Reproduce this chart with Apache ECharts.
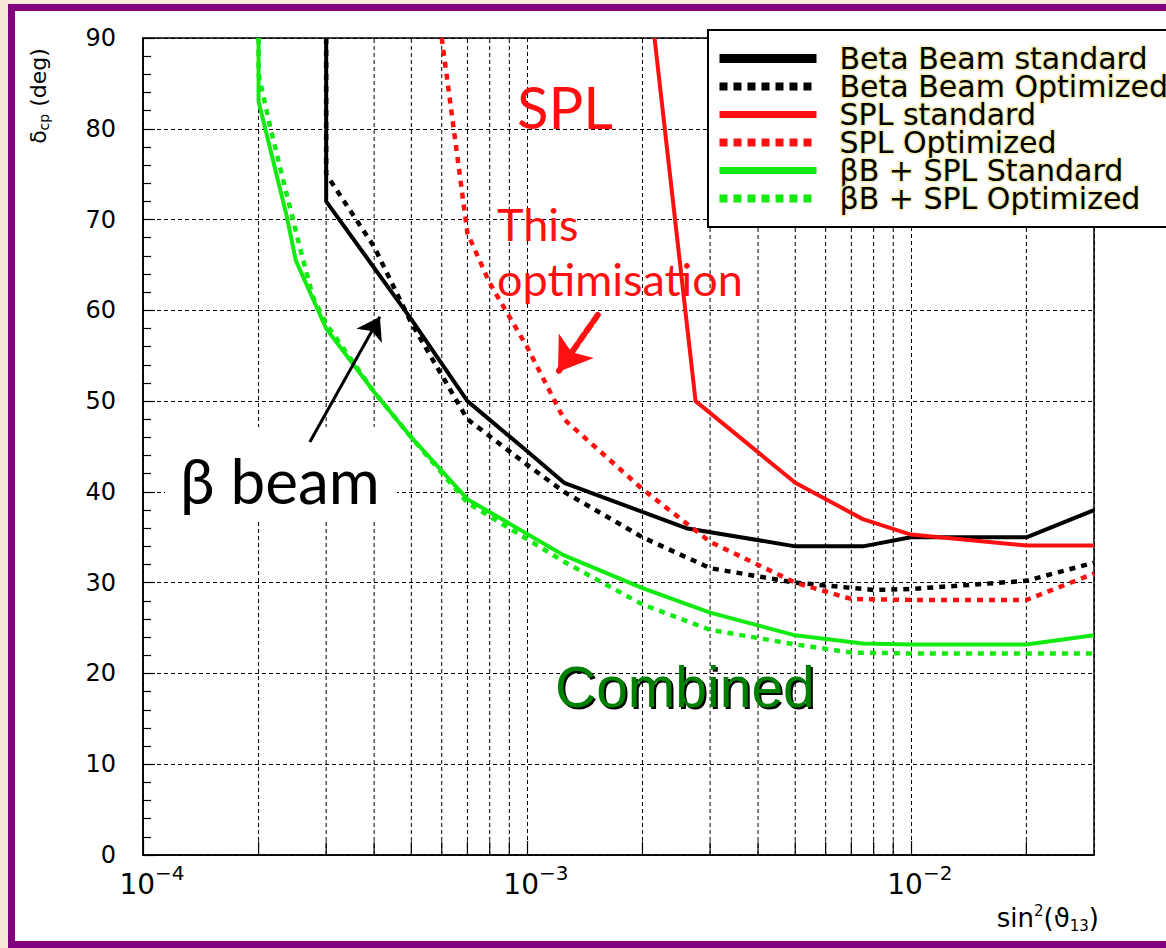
<!DOCTYPE html>
<html><head><meta charset="utf-8">
<script src="https://cdn.jsdelivr.net/npm/echarts@6/dist/echarts.min.js"></script>
<style>html,body{margin:0;padding:0;background:#f6e9d6;} #c{width:1166px;height:948px;}</style>
</head><body><div id="c"></div>
<script>
// ---- data ----
const seriesNames = ['Beta Beam standard','Beta Beam Optimized','SPL standard','SPL Optimized','\u03b2B + SPL Standard','\u03b2B + SPL Optimized'];

const bbStdX = [3e-4, 3e-4, 5e-4, 7e-4, 1e-3, 1.25e-3, 2.6e-3, 5e-3, 7.5e-3, 1e-2, 2e-2, 3e-2];
const bbStdY = [90, 72, 59, 50, 44.5, 41, 36, 34, 34, 35, 35, 38];

const bbOptX = [3e-4, 3e-4, 4e-4, 5e-4, 7e-4, 1e-3, 1.25e-3, 2e-3, 3e-3, 5e-3, 8e-3, 1e-2, 2e-2, 3e-2];
const bbOptY = [90, 75, 67, 58.6, 48, 43, 40, 35, 31.6, 30, 29.2, 29.3, 30.2, 32.2];

const splStdX = [2.15e-3, 2.75e-3, 5e-3, 7.5e-3, 1e-2, 2e-2, 3e-2];
const splStdY = [90, 50, 41, 37, 35.3, 34.1, 34.1];

const splOptX = [6e-4, 7e-4, 8e-4, 1e-3, 1.25e-3, 2e-3, 3e-3, 5e-3, 7e-3, 1e-2, 2e-2, 3e-2];
const splOptY = [90, 68.5, 63, 56, 48, 40.3, 34.5, 30, 28.2, 28.1, 28.1, 31];

const cbStdX = [2e-4, 2e-4, 2.37e-4, 2.5e-4, 3e-4, 4e-4, 5e-4, 7e-4, 1.25e-3, 2e-3, 3e-3, 5e-3, 7.5e-3, 1e-2, 2e-2, 3e-2];
const cbStdY = [90, 83, 70.3, 65.5, 58, 51, 46, 39.2, 33, 29.4, 26.7, 24.2, 23.3, 23.2, 23.2, 24.2];

const cbOptX = [2e-4, 2e-4, 2.15e-4, 2.32e-4, 2.56e-4, 2.77e-4, 3e-4, 4e-4, 5e-4, 7e-4, 1.25e-3, 2e-3, 3e-3, 5e-3, 7e-3, 1e-2, 2e-2, 3e-2];
const cbOptY = [90, 86, 80, 74.3, 67, 61.5, 58.5, 51, 46, 38.8, 32.3, 27.6, 24.8, 23.2, 22.3, 22.2, 22.2, 22.2];

const minorX = [2e-4,3e-4,4e-4,5e-4,6e-4,7e-4,8e-4,9e-4,2e-3,3e-3,4e-3,5e-3,6e-3,7e-3,8e-3,9e-3,2e-2];
const yMin = 0, yMax = 90, yStep = 10;
const xMin = 1e-4, xMax = 3e-2;

// ---- chart ----
const zip = (xs, ys) => xs.map((x, i) => [x, ys[i]]);
const RED = '#ff1010', GREEN = '#12ea12', BLACK = '#000000';

function lineSeries(name, xs, ys, color, dashed) {
  return {
    name, type: 'line', data: zip(xs, ys), symbol: 'none', showSymbol: false, z: 3,
    animation: false, emphasis: { disabled: true }, clip: true,
    itemStyle: { color },
    lineStyle: { color, width: dashed ? 4.5 : 4, type: dashed ? [6, 6] : 'solid' }
  };
}
// vertical segments at the minor decades, broken apart with empty points
const vSegments = (xs, y0, y1) => xs.flatMap(x => [[x, y0], [x, y1], '-']);

const chart = echarts.init(document.getElementById('c'), null, { renderer: 'svg' });
const FF = 'DejaVu Sans';

const option = {
  backgroundColor: '#f6e9d6',
  animation: false,
  grid: { left: 143, right: 72, top: 38, bottom: 93, show: true, borderColor: '#000', borderWidth: 1.5, backgroundColor: 'transparent' },
  xAxis: {
    type: 'log', logBase: 10, min: xMin, max: xMax,
    axisLine: { show: true, lineStyle: { color: '#000', width: 1.5 } },
    axisTick: { show: true, inside: true, length: 14, lineStyle: { color: '#000', width: 1.2 } },
    splitLine: { show: true, lineStyle: { color: '#000', type: [4, 3], width: 1 } },
    axisLabel: {
      showMaxLabel: false, margin: 8, padding: [0, 0, 0, 18],
      formatter: v => '{b|10}{e|\u2212' + Math.round(-Math.log10(v)) + '}',
      rich: {
        b: { fontFamily: FF, fontSize: 28, color: '#000', lineHeight: 30, padding: [12, 0, 0, 0] },
        e: { fontFamily: FF, fontSize: 20, color: '#000', lineHeight: 20, verticalAlign: 'top' }
      }
    }
  },
  yAxis: {
    type: 'value', min: yMin, max: yMax, interval: yStep,
    axisLine: { show: true, lineStyle: { color: '#000', width: 1.5 } },
    axisTick: { show: true, inside: true, length: 12, lineStyle: { color: '#000', width: 1.2 } },
    minorTick: { show: true, splitNumber: 5, length: 8, lineStyle: { color: '#000', width: 1.2 } },
    splitLine: { show: true, lineStyle: { color: '#000', type: [4, 3], width: 1 } },
    axisLabel: { fontFamily: FF, fontSize: 24, color: '#000', margin: 27 }
  },
  legend: {
    orient: 'vertical', left: 708, top: 30, align: 'left',
    itemWidth: 97, itemHeight: 14, itemGap: -5,
    padding: [12, 40, 12, 7], backgroundColor: '#fff', borderColor: '#000', borderWidth: 2,
    selectedMode: false,
    itemStyle: { opacity: 0 },
    textStyle: { fontFamily: FF, fontSize: 30, lineHeight: 14, color: '#000', padding: [0, 0, 0, 18], textBorderColor: '#f3efb6', textBorderWidth: 3 },
    data: [
      { name: seriesNames[0], lineStyle: { width: 9 } },
      { name: seriesNames[1], lineStyle: { width: 8, type: [8, 6] } },
      { name: seriesNames[2], lineStyle: { width: 7 } },
      { name: seriesNames[3], lineStyle: { width: 8, type: [8, 6] } },
      { name: seriesNames[4], lineStyle: { width: 7 } },
      { name: seriesNames[5], lineStyle: { width: 8, type: [8, 6] } }
    ]
  },
  series: [
    {
      type: 'line', data: vSegments(minorX, yMin, yMax), z: 0, silent: true, symbol: 'none', showSymbol: false,
      connectNulls: false, animation: false, emphasis: { disabled: true },
      lineStyle: { color: '#000', type: [4, 3], width: 1 }
    },
    {
      type: 'line', data: vSegments(minorX, yMin, 1.5), z: 0, silent: true, symbol: 'none', showSymbol: false,
      connectNulls: false, animation: false, emphasis: { disabled: true },
      lineStyle: { color: '#000', type: 'solid', width: 1.2 }
    },
    lineSeries(seriesNames[0], bbStdX, bbStdY, BLACK, false),
    lineSeries(seriesNames[1], bbOptX, bbOptY, BLACK, true),
    lineSeries(seriesNames[2], splStdX, splStdY, RED, false),
    lineSeries(seriesNames[3], splOptX, splOptY, RED, true),
    lineSeries(seriesNames[4], cbStdX, cbStdY, GREEN, false),
    lineSeries(seriesNames[5], cbOptX, cbOptY, GREEN, true),
    {
      type: 'line', data: [], z: 6, silent: true,
      markLine: {
        silent: true, symbol: ['none', 'arrow'], label: { show: false }, animation: false,
        data: [
          [{ coord: [2.72e-4, 45.5], lineStyle: { color: '#000', width: 3, type: 'solid' } },
           { coord: [4.14e-4, 59.3], symbolSize: 22 }],
          [{ coord: [1.53e-3, 59.5], lineStyle: { color: RED, width: 6, type: [8, 4], cap: 'round' } },
           { coord: [1.205e-3, 53.2], symbolSize: 32 }]
        ]
      }
    }
  ],
  graphic: [
    { type: 'rect', z: -100, shape: { x: 11.5, y: 7.5, width: 1200, height: 937 }, style: { fill: '#fff', stroke: '#800080', lineWidth: 7 } },
    { type: 'rect', z: 1, shape: { x: 165, y: 427, width: 232, height: 93 }, style: { fill: '#fff' } },
    { type: 'text', z: 10, x: 517, y: 106, style: { text: 'SPL', font: '58px Lato', fill: RED, textVerticalAlign: 'middle', verticalAlign: 'middle' } },
    { type: 'text', z: 10, x: 497, y: 224, style: { text: 'This', font: '45px Lato', fill: RED, textVerticalAlign: 'middle', verticalAlign: 'middle' } },
    { type: 'text', z: 10, x: 497, y: 279, style: { text: 'optimisation', font: '45px Lato', fill: RED, textVerticalAlign: 'middle', verticalAlign: 'middle' } },
    { type: 'text', z: 10, x: 180, y: 480, style: { text: '\u03b2 beam', font: '62px Lato', fill: '#000', textVerticalAlign: 'middle', verticalAlign: 'middle' } },
    { type: 'text', z: 10, x: 557, y: 689, style: { text: 'Combined', font: '57px "Liberation Sans"', fill: '#000', textVerticalAlign: 'middle', verticalAlign: 'middle' } },
    { type: 'text', z: 11, x: 555, y: 687, style: { text: 'Combined', font: '57px "Liberation Sans"', fill: '#008000', textVerticalAlign: 'middle', verticalAlign: 'middle' } },
    { type: 'text', z: 10, x: 38, y: 96, rotation: Math.PI / 2,
      style: { text: '{d|\u03b4}{s|cp}{d| (deg)}', textAlign: 'center', align: 'center', textVerticalAlign: 'middle', verticalAlign: 'middle',
        rich: { d: { fontFamily: FF, fontSize: 22, fill: '#000', color: '#000', lineHeight: 26 }, s: { fontFamily: FF, fontSize: 14, fill: '#000', color: '#000', verticalAlign: 'bottom', lineHeight: 16 } } } },
    { type: 'text', z: 10, x: 1099, y: 918,
      style: { text: '{t|sin}{p|2}{t|(\u03d1}{q|13}{t|)}', textAlign: 'right', align: 'right', textVerticalAlign: 'middle', verticalAlign: 'middle',
        rich: { t: { fontFamily: FF, fontSize: 26, fill: '#000', color: '#000', lineHeight: 30 },
                p: { fontFamily: FF, fontSize: 15, fill: '#000', color: '#000', verticalAlign: 'top', lineHeight: 15 },
                q: { fontFamily: FF, fontSize: 15, fill: '#000', color: '#000', verticalAlign: 'bottom', lineHeight: 15 } } } }
  ]
};
chart.setOption(option);
</script>
</body></html>
